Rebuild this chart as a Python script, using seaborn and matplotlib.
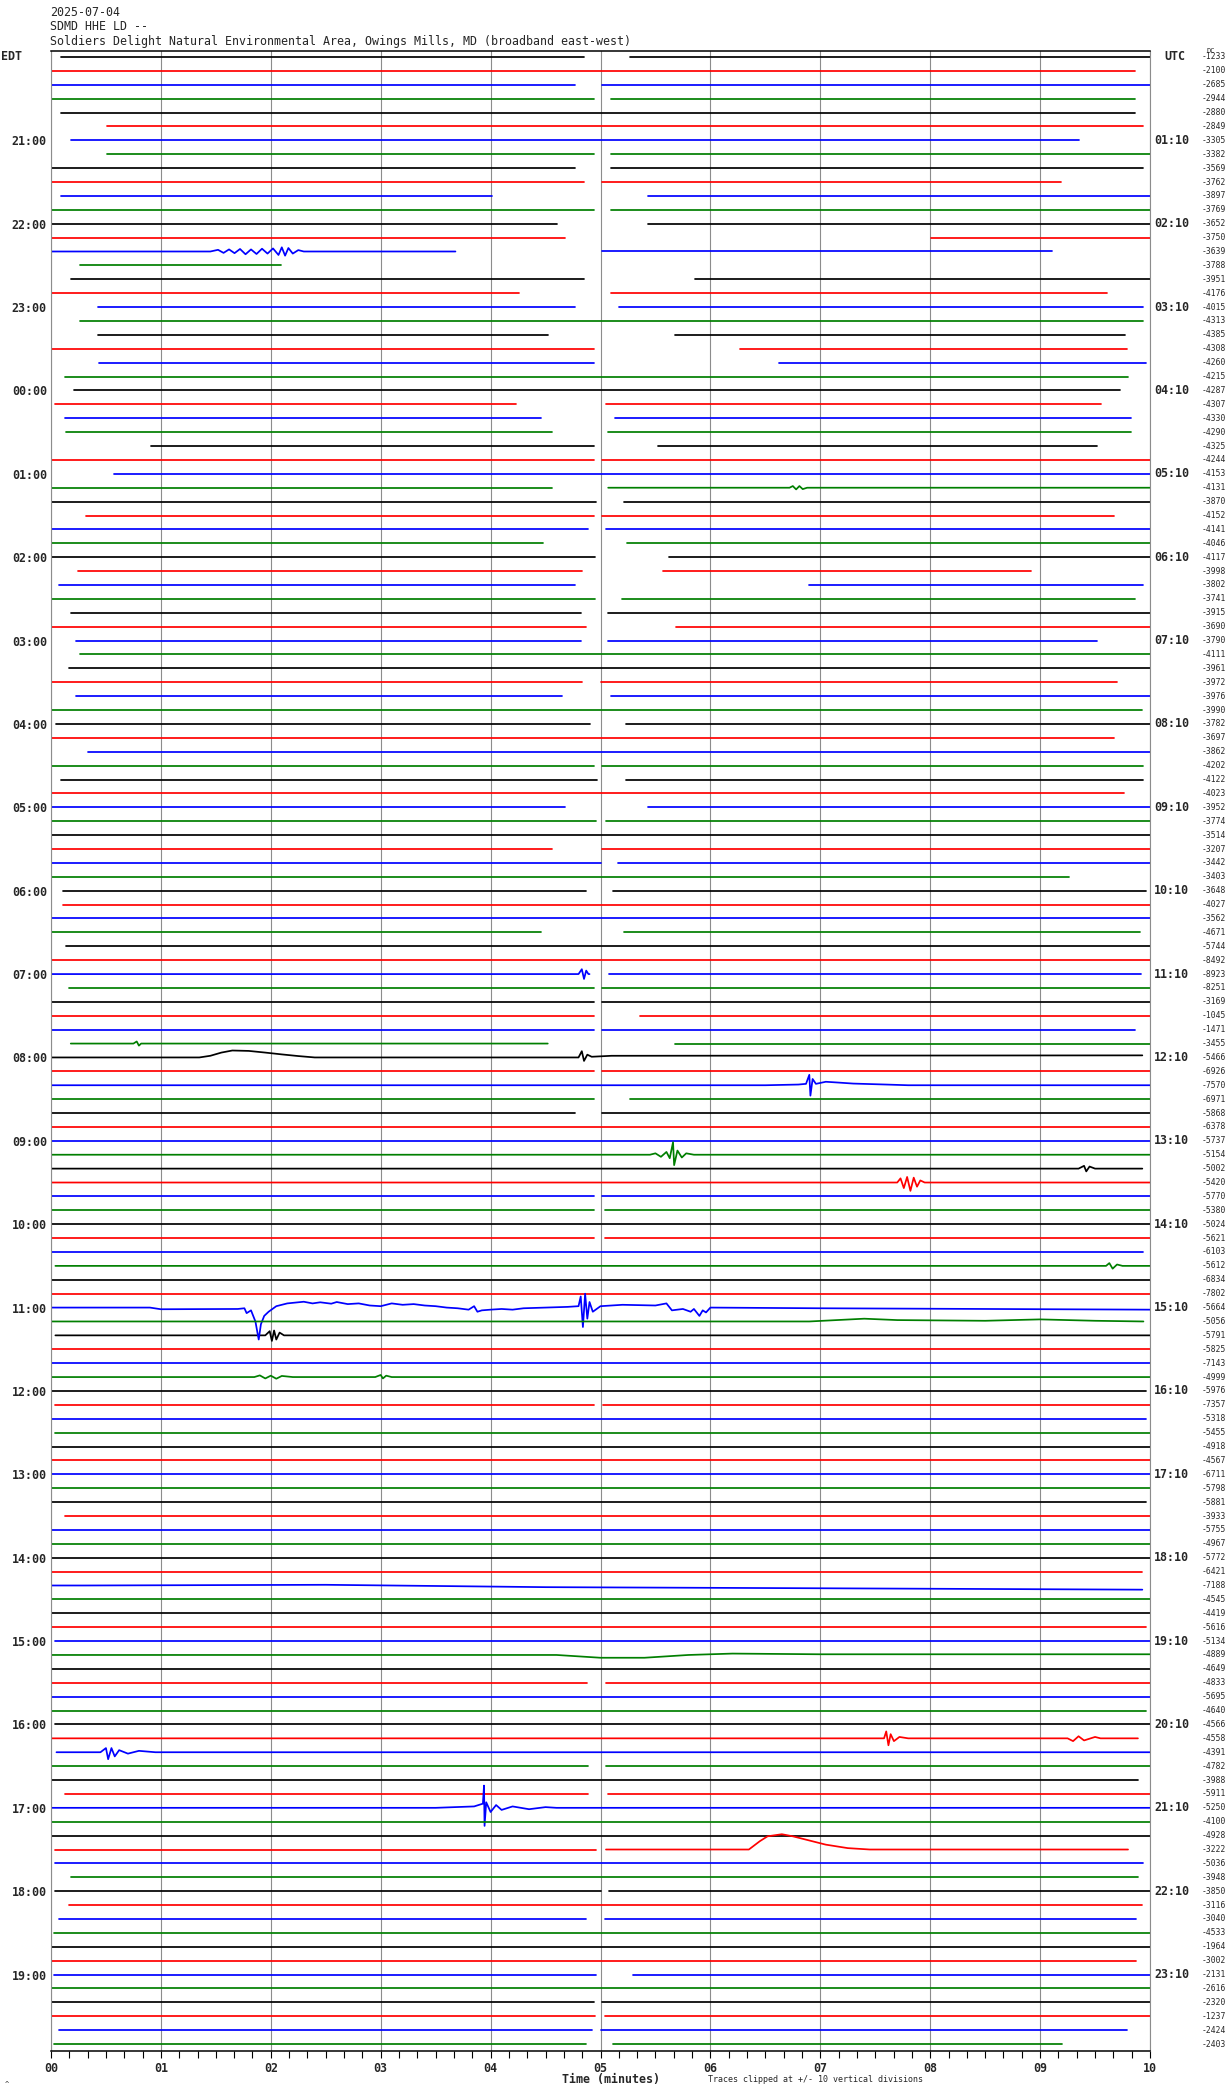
import matplotlib
matplotlib.use("Agg")
import matplotlib.pyplot as plt
import seaborn as sns
import pandas as pd
import numpy as np
from matplotlib.transforms import blended_transform_factory

# ---------------- data ----------------
title_lines = ["2025-07-04", "SDMD HHE LD --",
               "Soldiers Delight Natural Environmental Area, Owings Mills, MD (broadband east-west)"]
edt_labels = ["21:00", "22:00", "23:00", "00:00", "01:00", "02:00", "03:00", "04:00",
              "05:00", "06:00", "07:00", "08:00", "09:00", "10:00", "11:00", "12:00",
              "13:00", "14:00", "15:00", "16:00", "17:00", "18:00", "19:00"]
utc_labels = ["01:10", "02:10", "03:10", "04:10", "05:10", "06:10", "07:10", "08:10",
              "09:10", "10:10", "11:10", "12:10", "13:10", "14:10", "15:10", "16:10",
              "17:10", "18:10", "19:10", "20:10", "21:10", "22:10", "23:10"]
x_tick_labels = ["00", "01", "02", "03", "04", "05", "06", "07", "08", "09", "10"]
dc_values = [-1233, -2100, -2685, -2944, -2880, -2849, -3305, -3382, -3569, -3762, -3897, -3769,
             -3652, -3750, -3639, -3788, -3951, -4176, -4015, -4313, -4385, -4308, -4260, -4215,
             -4287, -4307, -4330, -4290, -4325, -4244, -4153, -4131, -3870, -4152, -4141, -4046,
             -4117, -3998, -3802, -3741, -3915, -3690, -3790, -4111, -3961, -3972, -3976, -3990,
             -3782, -3697, -3862, -4202, -4122, -4023, -3952, -3774, -3514, -3207, -3442, -3403,
             -3648, -4027, -3562, -4671, -5744, -8492, -8923, -8251, -3169, -1045, -1471, -3455,
             -5466, -6926, -7570, -6971, -5868, -6378, -5737, -5154, -5002, -5420, -5770, -5380,
             -5024, -5621, -6103, -5612, -6834, -7802, -5664, -5056, -5791, -5825, -7143, -4999,
             -5976, -7357, -5318, -5455, -4918, -4567, -6711, -5798, -5881, -3933, -5755, -4967,
             -5772, -6421, -7188, -4545, -4419, -5616, -5134, -4889, -4649, -4833, -5695, -4640,
             -4566, -4558, -4391, -4782, -3988, -5911, -5250, -4100, -4928, -3222, -5036, -3948,
             -3850, -3116, -3040, -4533, -1964, -3002, -2131, -2616, -2320, -1237, -2424, -2403]
color_cycle = ["black", "red", "blue", "green"]
palette = {"black": "#000000", "red": "#ff0000", "blue": "#0000ff", "green": "#007f00"}

# recorded data segments (start minute, end minute) for each 10-minute trace
segments = [
    [(0.09, 4.85), (5.27, 10.0)], [(0.0, 9.86)], [(0.0, 4.77), (5.01, 10.0)], [(0.0, 4.94), (5.10, 9.86)],
    [(0.09, 9.86)], [(0.51, 9.94)], [(0.18, 9.35)], [(0.51, 4.94), (5.10, 10.0)],
    [(0.0, 4.77), (5.10, 9.94)], [(0.0, 4.85), (5.01, 9.19)], [(0.09, 4.01), (5.43, 10.0)], [(0.0, 4.94), (5.10, 10.0)],
    [(0.0, 4.60), (5.43, 10.0)], [(0.0, 4.68), (8.01, 10.0)], [(0.0, 3.68), (5.01, 9.11)], [(0.26, 2.09)],
    [(0.18, 4.85), (5.86, 10.0)], [(0.0, 4.26), (5.10, 9.61)], [(0.43, 4.77), (5.17, 9.94)], [(0.26, 9.94)],
    [(0.43, 4.52), (5.68, 9.77)], [(0.0, 4.94), (6.27, 9.79)], [(0.44, 4.94), (6.62, 9.96)], [(0.13, 9.80)],
    [(0.21, 9.73)], [(0.04, 4.23), (5.05, 9.55)], [(0.13, 4.46), (5.13, 9.83)], [(0.14, 4.56), (5.07, 9.83)],
    [(0.91, 4.94), (5.52, 9.52)], [(0.0, 4.94), (5.01, 10.0)], [(0.57, 10.0)], [(0.0, 4.56), (5.07, 10.0)],
    [(0.0, 4.96), (5.21, 10.0)], [(0.32, 4.94), (5.01, 9.67)], [(0.0, 4.89), (5.05, 10.0)], [(0.0, 4.48), (5.24, 10.0)],
    [(0.0, 4.95), (5.62, 10.0)], [(0.25, 4.83), (5.57, 8.92)], [(0.07, 4.77), (6.90, 9.94)], [(0.0, 4.95), (5.20, 9.86)],
    [(0.18, 4.82), (5.07, 10.0)], [(0.0, 4.87), (5.69, 10.0)], [(0.23, 4.82), (5.07, 9.52)], [(0.26, 10.0)],
    [(0.16, 10.0)], [(0.0, 4.83), (5.0, 9.70)], [(0.23, 4.65), (5.10, 10.0)], [(0.0, 9.93)],
    [(0.05, 4.90), (5.23, 10.0)], [(0.0, 9.67)], [(0.34, 10.0)], [(0.0, 4.94), (5.01, 9.94)],
    [(0.09, 4.97), (5.23, 9.94)], [(0.0, 9.76)], [(0.0, 4.68), (5.43, 10.0)], [(0.0, 4.96), (5.05, 10.0)],
    [(0.0, 10.0)], [(0.0, 4.56), (5.01, 10.0)], [(0.0, 5.0), (5.16, 10.0)], [(0.0, 9.26)],
    [(0.11, 4.87), (5.11, 9.96)], [(0.11, 10.0)], [(0.0, 10.0)], [(0.0, 4.46), (5.21, 9.91)],
    [(0.14, 10.0)], [(0.0, 10.0)], [(0.0, 4.90), (5.08, 9.92)], [(0.16, 4.94), (5.01, 10.0)],
    [(0.0, 4.94), (5.01, 10.0)], [(0.0, 4.94), (5.36, 10.0)], [(0.0, 4.94), (5.01, 9.86)], [(0.18, 4.52), (5.68, 10.0)],
    [(0.0, 9.93)], [(0.0, 4.94), (5.01, 10.0)], [(0.0, 10.0)], [(0.0, 4.94), (5.27, 10.0)],
    [(0.0, 4.77), (5.01, 10.0)], [(0.0, 10.0)], [(0.0, 10.0)], [(0.0, 10.0)],
    [(0.0, 9.93)], [(0.0, 10.0)], [(0.0, 4.94), (5.01, 10.0)], [(0.0, 4.94), (5.04, 10.0)],
    [(0.0, 10.0)], [(0.0, 4.94), (5.04, 10.0)], [(0.0, 9.94)], [(0.04, 10.0)],
    [(0.0, 10.0)], [(0.0, 10.0)], [(0.0, 10.0)], [(0.0, 9.94)],
    [(0.04, 10.0)], [(0.0, 10.0)], [(0.0, 10.0)], [(0.0, 10.0)],
    [(0.0, 9.96)], [(0.04, 4.94), (5.02, 10.0)], [(0.0, 9.96)], [(0.04, 10.0)],
    [(0.0, 10.0)], [(0.0, 10.0)], [(0.0, 10.0)], [(0.0, 10.0)],
    [(0.0, 9.96)], [(0.13, 10.0)], [(0.0, 10.0)], [(0.0, 10.0)],
    [(0.0, 10.0)], [(0.0, 9.93)], [(0.01, 9.93)], [(0.0, 10.0)],
    [(0.0, 10.0)], [(0.0, 9.96)], [(0.04, 10.0)], [(0.0, 10.0)],
    [(0.0, 10.0)], [(0.0, 4.88), (5.05, 10.0)], [(0.0, 10.0)], [(0.0, 9.96)],
    [(0.04, 10.0)], [(0.0, 9.89)], [(0.05, 10.0)], [(0.0, 4.89), (5.05, 10.0)],
    [(0.0, 9.89)], [(0.13, 4.89), (5.07, 10.0)], [(0.0, 10.0)], [(0.0, 10.0)],
    [(0.0, 10.0)], [(0.04, 4.96), (5.05, 9.80)], [(0.04, 9.94)], [(0.18, 9.89)],
    [(0.04, 5.0), (5.08, 10.0)], [(0.16, 9.93)], [(0.07, 4.87), (5.04, 9.87)], [(0.03, 10.0)],
    [(0.0, 10.0)], [(0.0, 9.87)], [(0.03, 4.96), (5.30, 10.0)], [(0.0, 10.0)],
    [(0.0, 4.94), (5.01, 10.0)], [(0.0, 4.95), (5.04, 10.0)], [(0.07, 4.92), (5.0, 9.79)], [(0.03, 4.87), (5.11, 9.20)],
]

# notable signals: (minute, offset in trace spacings, + = up)
ev14 = [(1.45, 0), (1.52, 0.12), (1.57, -0.1), (1.62, 0.15), (1.67, -0.12), (1.72, 0.18), (1.77, -0.2),
        (1.82, 0.15), (1.87, -0.18), (1.92, 0.2), (1.97, -0.15), (2.02, 0.22), (2.07, -0.25), (2.1, 0.3),
        (2.13, -0.3), (2.16, 0.25), (2.2, -0.15), (2.25, 0.1), (2.3, 0)]
ev31 = [(6.72, 0), (6.75, 0.12), (6.78, -0.12), (6.81, 0.12), (6.84, -0.1), (6.88, 0)]
ev66 = [(4.8, 0), (4.83, 0.35), (4.85, -0.35), (4.87, 0.25), (4.89, 0)]
ev71 = [(0.75, 0), (0.78, 0.15), (0.8, -0.15), (0.82, 0)]
ev72 = [(1.35, 0), (1.45, 0.12), (1.55, 0.35), (1.65, 0.5), (1.8, 0.47), (1.95, 0.35), (2.1, 0.22),
        (2.25, 0.1), (2.4, 0), (4.8, 0), (4.83, 0.45), (4.85, -0.25), (4.88, 0.2), (4.92, 0.05),
        (5.1, 0.12), (9.93, 0.15)]
ev74 = [(6.5, 0), (6.8, 0.05), (6.87, 0.1), (6.9, 0.75), (6.91, -0.75), (6.93, 0.45), (6.96, 0.1),
        (7.05, 0.25), (7.15, 0.2), (7.3, 0.12), (7.6, 0.05), (7.8, 0)]
ev79 = [(5.45, 0), (5.5, 0.1), (5.55, -0.15), (5.6, 0.2), (5.63, -0.25), (5.66, 0.9), (5.67, -0.75),
        (5.7, 0.3), (5.74, -0.2), (5.78, 0.1), (5.85, 0)]
ev80 = [(9.35, 0), (9.4, 0.2), (9.42, -0.2), (9.45, 0.15), (9.5, 0)]
ev81 = [(7.7, 0), (7.73, 0.3), (7.76, -0.4), (7.79, 0.4), (7.82, -0.6), (7.85, 0.35), (7.88, -0.3),
        (7.91, 0.15), (7.95, 0)]
ev87 = [(9.6, 0), (9.63, 0.2), (9.66, -0.2), (9.7, 0.1), (9.75, 0)]
ev90 = [(0.9, 0), (1.0, -0.12), (1.7, -0.1), (1.76, -0.05), (1.78, -0.4), (1.82, -0.2), (1.86, -1.0),
        (1.89, -2.3), (1.91, -1.2), (1.94, -0.6), (1.98, -0.3), (2.05, 0.1), (2.15, 0.3), (2.3, 0.42),
        (2.38, 0.3), (2.45, 0.38), (2.55, 0.28), (2.6, 0.4), (2.7, 0.25), (2.8, 0.3), (2.9, 0.15),
        (3.0, 0.1), (3.1, 0.3), (3.2, 0.2), (3.3, 0.25), (3.4, 0.15), (3.5, 0.1), (3.6, 0.0),
        (3.7, -0.05), (3.8, -0.15), (3.85, 0.1), (3.88, -0.3), (3.92, -0.2), (4.0, -0.15),
        (4.1, -0.1), (4.2, -0.15), (4.3, -0.05), (4.5, 0.0), (4.7, 0.05), (4.8, 0.1), (4.82, 0.8),
        (4.84, -1.4), (4.86, 1.0), (4.88, -0.8), (4.9, 0.4), (4.93, -0.3), (5.0, 0.1), (5.2, 0.2),
        (5.5, 0.15), (5.6, 0.3), (5.65, -0.2), (5.75, -0.1), (5.82, -0.3), (5.85, -0.1), (5.9, -0.6),
        (5.93, -0.2), (5.96, -0.35), (6.0, 0.0), (7.0, -0.05), (10.0, -0.15)]
ev91 = [(6.9, 0), (7.2, 0.12), (7.4, 0.2), (7.7, 0.1), (8.5, 0.05), (9.0, 0.15), (9.5, 0.05), (9.94, 0.0)]
ev92 = [(1.95, 0), (1.99, 0.3), (2.01, -0.4), (2.03, 0.35), (2.05, -0.3), (2.08, 0.2), (2.12, 0)]
ev95 = [(1.85, 0), (1.9, 0.12), (1.95, -0.1), (2.0, 0.1), (2.05, -0.12), (2.1, 0.08), (2.2, 0),
        (2.95, 0), (3.0, 0.15), (3.02, -0.1), (3.05, 0.1), (3.1, 0)]
ev110 = [(0.3, 0), (2.5, 0.05), (4.5, -0.12), (7.0, -0.2), (9.93, -0.3)]
ev115 = [(4.6, 0), (5.0, -0.2), (5.4, -0.2), (5.8, 0), (6.2, 0.1), (7.0, 0.05)]
ev121 = [(7.58, 0), (7.6, 0.5), (7.62, -0.5), (7.64, 0.3), (7.67, -0.2), (7.72, 0.1), (7.8, 0),
         (9.25, 0), (9.3, -0.2), (9.35, 0.15), (9.4, -0.15), (9.5, 0.1), (9.55, 0)]
ev122 = [(0.45, 0), (0.5, 0.3), (0.52, -0.5), (0.55, 0.3), (0.58, -0.3), (0.62, 0.15), (0.7, -0.1),
         (0.8, 0.1), (0.95, 0)]
ev126 = [(3.5, 0), (3.85, 0.1), (3.93, 0.3), (3.94, 1.6), (3.945, -1.3), (3.96, 0.4), (4.0, -0.3),
         (4.05, 0.2), (4.1, -0.15), (4.2, 0.1), (4.35, -0.1), (4.5, 0.05), (4.6, 0)]
ev129 = [(6.35, 0), (6.45, 0.6), (6.52, 0.95), (6.65, 1.1), (6.75, 0.95), (6.9, 0.65), (7.05, 0.35),
         (7.25, 0.1), (7.45, 0), (7.5, 0)]
events = {14: ev14, 31: ev31, 66: ev66, 71: ev71, 72: ev72, 74: ev74, 79: ev79, 80: ev80, 81: ev81,
          87: ev87, 90: ev90, 91: ev91, 92: ev92, 95: ev95, 110: ev110, 115: ev115, 121: ev121,
          122: ev122, 126: ev126, 129: ev129}

# ---------------- build long table ----------------
rows = []
for i, segs in enumerate(segments):
    ev = events.get(i, [])
    ex = [p[0] for p in ev]
    ey = [p[1] for p in ev]
    for k, (a, b) in enumerate(segs):
        pts = [a] + [m for m in ex if a < m < b] + [b]
        for m in pts:
            off = float(np.interp(m, ex, ey)) if ev else 0.0
            rows.append({"minute": m, "trace": i - off, "seg": f"{i}_{k}",
                         "color": color_cycle[i % 4]})
df = pd.DataFrame(rows)

# ---------------- figure ----------------
sns.set_theme(style="white")
plt.rcParams['font.family'] = ['DejaVu Sans Mono']

W, H = 1230, 2094
fig = plt.figure(figsize=(W / 100, H / 100), dpi=100)
ax_left, ax_right, ax_top, ax_bot = 51, 1150, 50.7, 2051
ax = fig.add_axes([ax_left / W, 1 - ax_bot / H, (ax_right - ax_left) / W, (ax_bot - ax_top) / H])

sns.lineplot(data=df, x="minute", y="trace", hue="color", palette=palette, units="seg",
             estimator=None, sort=False, legend=False, lw=1.25, ax=ax)

ax.set_xlim(0, 10)
ax.set_ylim(143.5, -0.45)
ax.set_xlabel("")
ax.set_ylabel("")

# x axis
ax.set_xticks(range(11))
ax.set_xticklabels(x_tick_labels, fontsize=8.4, fontweight="bold")
ax.set_xticks(np.arange(0, 10.001, 1 / 6), minor=True)
ax.tick_params(axis="x", which="both", bottom=True, direction="out", length=5, width=0.8,
               color="black", pad=3)
ax.grid(axis="x", which="major", color="#8c8c8c", lw=0.8)
ax.grid(axis="y", visible=False)
ax.set_axisbelow(True)

# left EDT labels
ax.set_yticks(range(6, 144, 6))
ax.set_yticklabels(edt_labels, fontsize=8.4, fontweight="bold")
ax.tick_params(axis="y", which="both", left=False, length=0, pad=3)

for side in ["left", "right"]:
    ax.spines[side].set_color("#8c8c8c")
    ax.spines[side].set_linewidth(0.8)
for side in ["top", "bottom"]:
    ax.spines[side].set_color("black")
    ax.spines[side].set_linewidth(1.1)

trans = blended_transform_factory(ax.transAxes, ax.transData)
span = ax_right - ax_left
for j, lab in enumerate(utc_labels):
    ax.text((1154 - ax_left) / span, 6 + 6 * j, lab, transform=trans, ha="left", va="center",
            fontsize=8.4, fontweight="bold", clip_on=False)
for i, v in enumerate(dc_values):
    ax.text((1226 - ax_left) / span, i, str(v), transform=trans, ha="right", va="center",
            fontsize=5.8, clip_on=False)
ax.text((1175 - ax_left) / span, 0, "UTC", transform=trans, ha="center", va="center",
        fontsize=8.4, fontweight="bold", clip_on=False)
fig.text(1211 / W, 1 - 51 / H, "DC", ha="center", va="center", fontsize=5)
fig.text(1 / W, 1 - 56.7 / H, "EDT", ha="left", va="center", fontsize=8.4, fontweight="bold")

# header
for t, yy in zip(title_lines, [12, 27, 42]):
    fig.text(50 / W, 1 - yy / H, t, ha="left", va="center", fontsize=8.4)

# footer
fig.text(611 / W, 1 - 2080 / H, "Time (minutes)", ha="center", va="center",
         fontsize=8.4, fontweight="bold")
fig.text(708 / W, 1 - 2079 / H, "Traces clipped at +/- 10 vertical divisions", ha="left",
         va="center", fontsize=6)
fig.text(5 / W, 1 - 2084 / H, "^", ha="left", va="center", fontsize=5)

fig.savefig("out.png", dpi=100)
